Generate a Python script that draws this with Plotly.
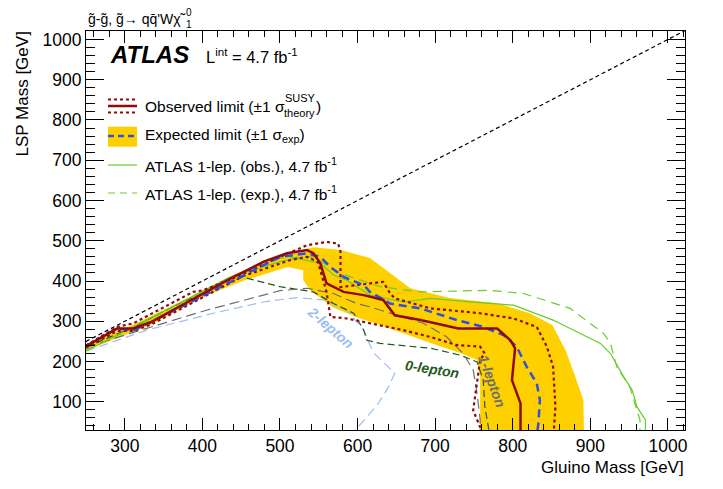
import plotly.graph_objects as go

# gluino mass (x) vs LSP mass (y), all in GeV

# observed limit and its +/-1 sigma(theory) variations
obs_x = [250, 290, 311, 335, 436, 479, 509, 535, 543, 552, 556, 560, 582, 608, 633, 648, 681, 730, 780, 797, 803, 799, 810, 810]
obs_y = [238, 282, 282, 299, 406, 448, 469, 477, 469, 444, 419, 394, 373, 365, 353, 315, 303, 282, 282, 253, 233, 154, 96, 0]

obs_up_x = [250, 290, 311, 388, 401, 444, 500, 535, 560, 575, 578, 578, 616, 633, 642, 648, 694, 758, 801, 831, 844, 852, 855, 852]
obs_up_y = [240, 286, 295, 373, 377, 410, 460, 489, 497, 493, 473, 385, 394, 398, 369, 357, 332, 320, 307, 286, 237, 187, 88, 0]

obs_dn_x = [250, 290, 311, 335, 452, 513, 535, 549, 560, 565, 586, 629, 659, 694, 728, 758, 764, 758, 752, 749, 758, 760]
obs_dn_y = [234, 276, 276, 293, 412, 452, 460, 447, 373, 311, 307, 291, 278, 261, 241, 237, 220, 204, 121, 79, 37, 0]

# expected limit and +/-1 sigma(exp) band
exp_x = [250, 290, 311, 335, 500, 535, 552, 565, 582, 608, 616, 642, 681, 728, 762, 788, 805, 818, 831, 835, 833, 830]
exp_y = [238, 282, 278, 299, 460, 469, 460, 435, 410, 390, 373, 344, 332, 303, 286, 266, 237, 187, 146, 104, 46, 0]

band_hi_x = [250, 307, 371, 436, 500, 543, 578, 616, 668, 719, 780, 822, 851, 868, 880, 891, 892]
band_hi_y = [243, 288, 348, 412, 464, 484, 477, 457, 382, 358, 345, 320, 291, 228, 166, 104, 0]
band_lo_x = [758, 758, 754, 732, 694, 629, 599, 568, 539, 530, 530, 510, 452, 397, 333, 250]
band_lo_y = [0, 161, 204, 221, 246, 291, 310, 335, 377, 402, 427, 435, 400, 358, 291, 228]

# previous ATLAS 1-lepton result, 4.7 fb-1
lep1_obs_x = [250, 311, 371, 436, 500, 522, 552, 569, 586, 616, 659, 694, 745, 801, 852, 913, 926, 943, 954, 960, 971, 971]
lep1_obs_y = [226, 286, 344, 410, 448, 456, 444, 415, 402, 365, 348, 357, 348, 340, 303, 245, 220, 162, 129, 88, 55, 0]
lep1_exp_x = [250, 311, 371, 436, 500, 543, 578, 629, 681, 771, 814, 874, 917, 926, 934, 951, 960, 964, 964]
lep1_exp_y = [228, 283, 345, 410, 457, 460, 419, 386, 373, 377, 369, 332, 270, 245, 187, 137, 79, 55, 0]

# individual channel expected contours
one_lep_x = [250, 307, 406, 500, 535, 569, 599, 616, 642, 685, 715, 736, 749, 754, 758, 758]
one_lep_y = [235, 270, 328, 376, 382, 369, 344, 336, 320, 295, 261, 220, 179, 121, 55, 0]
zero_lep_x = [250, 311, 371, 452, 500, 543, 569, 595, 608, 612, 629, 694, 732, 754, 762, 764, 772]
zero_lep_y = [236, 285, 345, 410, 386, 373, 344, 320, 278, 253, 245, 233, 216, 199, 154, 88, 0]
two_lep_x = [250, 328, 414, 479, 522, 556, 586, 608, 620, 633, 648, 639, 626, 611, 597, 585]
two_lep_y = [226, 278, 320, 348, 359, 353, 328, 278, 223, 199, 171, 134, 94, 60, 30, 0]

# kinematic boundary m(LSP) = m(gluino)
diag = [250, 1022]

FONT = "Liberation Sans, Arial, Helvetica, sans-serif"
RED = "#8f0a0a"
BLUE = "#2f4fe0"
YELLOW = "#ffd000"
GREEN = "#66cc2a"
GRAY = "#6e6e6e"
DKGREEN = "#1f5a1c"
LTBLUE = "#9dbcf2"

# the page body adds an 8px margin, so the figure is drawn 8px smaller
W, H = 715, 481
L, R, T, B = 78, 38, 23, 59
# plot frame in window pixels
FX0, FX1, FY0, FY1 = 86, 685, 31, 430


def px(x, y):
    """window pixel position -> paper coordinates"""
    return (x - FX0) / (FX1 - FX0), (FY1 - y) / (FY1 - FY0)


def line(x, y, color, width, dash="solid"):
    return go.Scatter(x=x, y=y, mode="lines", hoverinfo="skip",
                      line=dict(color=color, width=width, dash=dash))


fig = go.Figure()

fig.add_trace(go.Scatter(x=band_hi_x + band_lo_x, y=band_hi_y + band_lo_y,
                         mode="lines", fill="toself", fillcolor=YELLOW,
                         line=dict(width=0), hoverinfo="skip"))
fig.add_trace(line(diag, diag, "black", 1.2, "4px,3px"))
fig.add_trace(line(two_lep_x, two_lep_y, LTBLUE, 1.2, "9px,5px"))
fig.add_trace(line(zero_lep_x, zero_lep_y, DKGREEN, 1.2, "7px,4px"))
fig.add_trace(line(one_lep_x, one_lep_y, GRAY, 1.2, "10px,5px"))
fig.add_trace(line(lep1_exp_x, lep1_exp_y, GREEN, 1.2, "9px,6px"))
fig.add_trace(line(lep1_obs_x, lep1_obs_y, GREEN, 1.2))
fig.add_trace(line(obs_up_x, obs_up_y, RED, 2.2, "dot"))
fig.add_trace(line(obs_dn_x, obs_dn_y, RED, 2.2, "dot"))
fig.add_trace(line(exp_x, exp_y, BLUE, 2.5, "8px,5px"))
fig.add_trace(line(obs_x, obs_y, RED, 2.5))

axis = dict(showgrid=False, zeroline=False, showline=True, linecolor="black",
            linewidth=1, mirror="ticks", ticks="inside", tickcolor="black",
            tickwidth=1, dtick=100, tick0=0,
            tickfont=dict(family=FONT, size=17.5, color="black"))

fig.update_layout(
    width=W, height=H,
    margin=dict(l=L, r=R, t=T, b=B),
    plot_bgcolor="white", paper_bgcolor="white",
    showlegend=False,
    font=dict(family=FONT, color="black"),
    xaxis=dict(axis, range=[250, 1022], ticklen=12,
               minor=dict(dtick=20, tick0=0, ticks="inside", ticklen=6, tickcolor="black")),
    yaxis=dict(axis, range=[30, 1021], ticklen=18,
               minor=dict(dtick=20, tick0=0, ticks="inside", ticklen=9, tickcolor="black")),
)

ann = []


def text(s, x, y, size, xanchor="left", yanchor="middle", **kw):
    ax, ay = px(x, y)
    ann.append(dict(text=s, x=ax, y=ay, xref="paper", yref="paper", showarrow=False,
                    xanchor=xanchor, yanchor=yanchor,
                    font=dict(family=FONT, size=size, color=kw.pop("color", "black")), **kw))


# title (sub/superscript of the neutralino stacked by hand) and axis titles
text("g\u0303-g\u0303, g\u0303\u2192 qq\u0304'W\u03c7\u0303", 86, 19, 14)
text("0", 184, 13, 10)
text("1", 184, 25, 10)
text("Gluino Mass [GeV]", 686, 467, 17, xanchor="right")
text("LSP Mass [GeV]", 22, 30, 17, xanchor="center", yanchor="top", textangle=-90)

# ATLAS label
text("<b><i>ATLAS</i></b>", 108, 54, 24)
text("L<sup>int</sup> = 4.7 fb<sup>-1</sup>", 204, 56, 16.5)

# hand drawn legend
text("Observed limit (\u00b11 \u03c3", 143, 106, 15.5)
text("SUSY", 283, 98, 11)
text("theory", 282, 113, 11)
text(")", 314, 106, 15.5)
text("Expected limit (\u00b11 \u03c3<sub>exp</sub>)", 143, 135, 15.5)
text("ATLAS 1-lep. (obs.), 4.7 fb<sup>-1</sup>", 143, 165, 15.5)
text("ATLAS 1-lep. (exp.), 4.7 fb<sup>-1</sup>", 143, 193, 15.5)

# channel labels on the plot
text("<b><i>2-lepton</i></b>", 330, 327, 14, xanchor="center", color=LTBLUE, textangle=41)
text("<b><i>0-lepton</i></b>", 432, 369, 14, xanchor="center", color=DKGREEN, textangle=9)
text("<b><i>1-lepton</i></b>", 492, 381, 14, xanchor="center", color=GRAY, textangle=70)

fig.update_layout(annotations=ann)

shapes = []


def seg(y, color, width, dash="solid"):
    x0, y0 = px(108, y)
    x1, _ = px(137, y)
    shapes.append(dict(type="line", xref="paper", yref="paper", x0=x0, x1=x1, y0=y0, y1=y0,
                       line=dict(color=color, width=width, dash=dash)))


x0, y0 = px(108, 126.7)
x1, y1 = px(137, 146.7)
shapes.append(dict(type="rect", xref="paper", yref="paper", x0=x0, x1=x1, y0=y0, y1=y1,
                   fillcolor=YELLOW, line=dict(width=0)))
seg(99.5, RED, 2.2, "dot")
seg(106, RED, 2.5)
seg(112.5, RED, 2.2, "dot")
seg(136, BLUE, 2.5, "6px,4px")
seg(165, GREEN, 1.2)
seg(193, GREEN, 1.2, "7px,5px")

fig.update_layout(shapes=shapes)

fig.write_html("out.html")
